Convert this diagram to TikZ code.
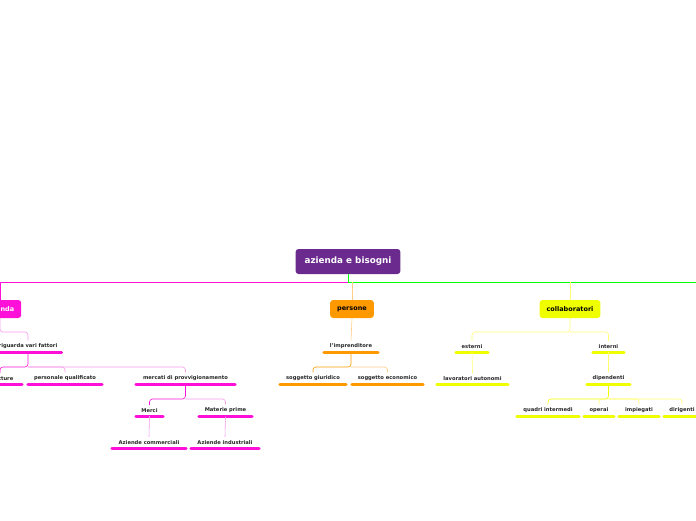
\documentclass[tikz,border=0pt]{standalone}
\usepackage{fontspec}
\setmainfont{DejaVu Sans}
\usetikzlibrary{positioning}
\definecolor{rootc}{HTML}{6A2A8E}
\definecolor{magc}{HTML}{FF10D8}
\definecolor{magl}{HTML}{F59AEB}
\definecolor{orac}{HTML}{FF9900}
\definecolor{oral}{HTML}{FFCC88}
\definecolor{yelc}{HTML}{F0FF00}
\definecolor{yell}{HTML}{FFFF70}
\tikzset{box/.style={rounded corners=3pt, minimum height=18, inner xsep=7,
  font=\fontsize{6.5}{7}\selectfont\bfseries},
  sub/.style={inner xsep=0, minimum height=11, text=black!85,
  font=\fontsize{5.2}{6}\selectfont\bfseries,
  append after command={(\tikzlastnode.south west) edge[draw=#1, line width=3, line cap=round] (\tikzlastnode.south east)}},
  link/.style={draw=#1, line width=0.6, rounded corners=3}}
\begin{document}
\begin{tikzpicture}[x=1pt,y=-1pt]
\useasboundingbox (0,0) rectangle (696,520);
\node[box, fill=rootc, text=white, minimum height=25, inner xsep=9, font=\fontsize{8.8}{9}\selectfont\bfseries] (root) at (348,261.5) {azienda e bisogni};
% first level
\node[box, fill=magc, text=white] (az) at (0,309) {azienda};
\node[box, fill=orac, text=black] (pers) at (352,309) {persone};
\node[box, fill=yelc, text=black] (coll) at (570,309) {collaboratori};
\draw[magc, line width=0.8] (root.south) -- (348,282) -| (az.north);
\draw[green, line width=0.8] (root.south) -- (348,282) -- (696,282);
\draw[link=oral] (352,282) -- (pers.north);
\draw[link=yell] (570,282) -- (coll.north);
% azienda
\node[sub=magc, minimum width=67] (rig) at (28,346.5) {riguarda vari fattori};
\node[sub=magc, minimum width=44] (strut) at (0,378.5) {strutture};
\node[sub=magc, minimum width=74] (pq) at (65,378.5) {personale qualificato};
\node[sub=magc, minimum width=99] (merc) at (185.5,378.5) {mercati di provvigionamento};
\node[sub=magc, minimum width=27] (merci) at (149.5,410.5) {Merci};
\node[sub=magc, minimum width=53] (mat) at (225.5,410.5) {Materie prime};
\node[sub=magc, minimum width=74] (acom) at (149,442.5) {Aziende commerciali};
\node[sub=magc, minimum width=68] (aind) at (225,442.5) {Aziende industriali};
\draw[link=magl] (az.south) -- (0,332) -| (rig.north);
\draw[link=magc] (rig.south) -- (28,367) -| (strut.north);
\draw[link=magl] (28,367) -| (pq.north);
\draw[link=magl] (28,367) -| (merc.north);
\draw[link=magc] (merc.south) -- (185.5,399) -| (merci.north);
\draw[link=magl] (185.5,399) -| (mat.north);
\draw[link=magl] (merci.south) -- (acom.north);
\draw[link=magl] (mat.south) -- (aind.north);
% persone
\node[sub=orac, minimum width=54] (impr) at (351,346.5) {l'imprenditore};
\node[sub=orac, minimum width=66] (sgiu) at (313,378.5) {soggetto giuridico};
\node[sub=orac, minimum width=71] (seco) at (387.5,378.5) {soggetto economico};
\draw[link=oral] (pers.south) -- (impr.north);
\draw[link=orac] (impr.south) -- (351,367) -| (sgiu.north);
\draw[link=oral] (351,367) -| (seco.north);
% collaboratori
\node[sub=yelc, minimum width=32] (est) at (472,346.5) {esterni};
\node[sub=yelc, minimum width=31] (int) at (608.5,346.5) {interni};
\node[sub=yelc, minimum width=71] (lav) at (472.5,378.5) {lavoratori autonomi};
\node[sub=yelc, minimum width=43] (dip) at (608.5,378.5) {dipendenti};
\node[sub=yelc, minimum width=62] (quad) at (548,410.5) {quadri intermedi};
\node[sub=yelc, minimum width=30] (oper) at (599,410.5) {operai};
\node[sub=yelc, minimum width=40] (impg) at (639,410.5) {impiegati};
\node[sub=yelc, minimum width=36] (dir) at (682,410.5) {dirigenti};
\draw[link=yell] (coll.south) -- (570,332) -| (est.north);
\draw[link=yell] (570,332) -| (int.north);
\draw[link=yell] (est.south) -- (lav.north);
\draw[link=yell] (int.south) -- (dip.north);
\draw[link=yelc] (dip.south) -- (608.5,399) -| (quad.north);
\draw[link=yell] (608.5,399) -| (oper.north);
\draw[link=yell] (608.5,399) -| (impg.north);
\draw[link=yell] (608.5,399) -| (dir.north);
\end{tikzpicture}
\end{document}
